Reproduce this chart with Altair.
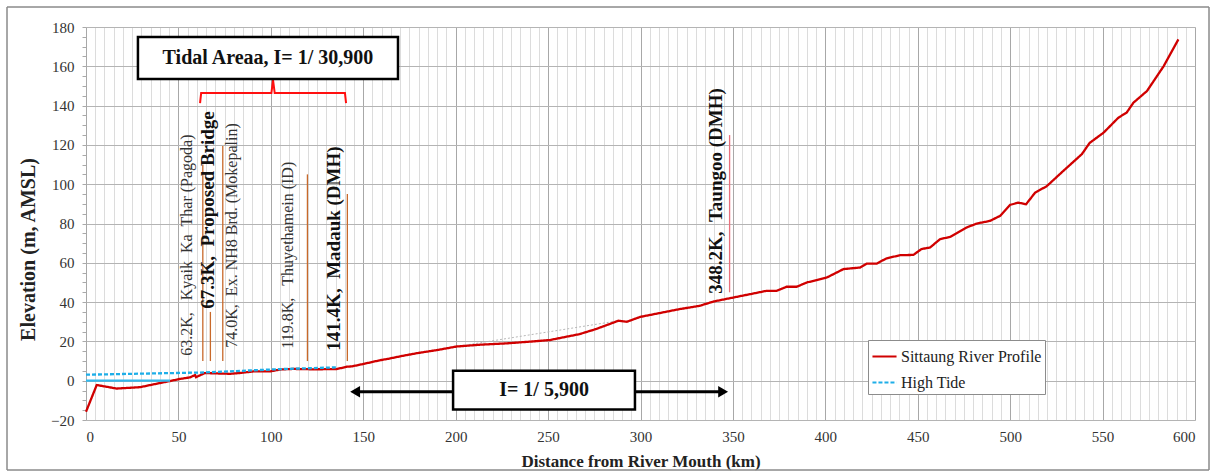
import altair as alt
import pandas as pd

# ---------------- data ----------------
profile_km = [0, 5.8, 16.6, 29.2, 40, 50.9, 56.3, 59, 59.5, 64.4, 70.7, 78, 83, 90.5, 99.6, 105, 112, 123,
              135.6, 141, 144, 150, 159, 162.7, 170, 179, 190, 200.5, 213, 227.6, 242, 251, 267, 276, 288,
              292.6, 300, 321, 332, 339.5, 348.5, 357.5, 368, 373.5, 379, 384.5, 390, 395.4, 400.8, 409.8,
              418.8, 422.4, 427.8, 433, 440.5, 447.6, 452, 456.7, 462, 467.5, 476.5, 482, 489, 494.6, 500,
              504.5, 508.6, 513.5, 519.8, 528.8, 538.8, 543, 550.5, 558.6, 563, 566.7, 574, 583, 591]
profile_elev = [-15.8, -2.2, -4.0, -3.3, -1.2, 0.9, 1.7, 2.9, 1.8, 3.9, 3.7, 3.5, 3.9, 4.7, 4.7, 5.7, 6.0, 5.8,
                5.9, 7.1, 7.3, 8.5, 10.4, 11.0, 12.4, 14.0, 15.6, 17.4, 18.3, 19.0, 20.0, 20.7, 23.7, 26.3, 30.5,
                30.0, 32.5, 36.4, 38.1, 40.3, 42.0, 43.7, 45.7, 45.7, 47.8, 47.8, 50.0, 51.2, 52.5, 56.8,
                57.6, 59.6, 59.6, 62.2, 63.9, 64.0, 67.0, 67.8, 72.0, 73.2, 78.0, 80.0, 81.3, 83.9, 89.5,
                90.6, 89.8, 95.7, 99.0, 106.8, 115.3, 121.0, 126.2, 133.9, 136.4, 141.5, 147.4, 160.0, 173.7]

tide_km = [0, 64, 105, 135.6]
tide_elev = [3.05, 4.2, 5.9, 6.8]

low_km = [0, 45.5]
low_elev = [0, 0]

trend_km = [200.5, 288]
trend_elev = [17.4, 30.5]

series_names = ["Sittaung River Profile", "High Tide"]

marker_km = [63.2, 67.3, 74.0, 119.8, 141.4, 348.2]
marker_bottom = [10, 10, 10, 10, 10, 45]
marker_top = [110, 35, 119.5, 105, 95, 125]
marker_color = ["#C8692A", "#C8692A", "#C8692A", "#C8692A", "#C8692A", "#E8707C"]

S = "\u00a0"
label_text = ["63.2K," + S * 3 + "Kyaik" + S * 2 + "Ka" + S * 2 + "Thar (Pagoda)",
              "67.3K," + S * 2 + "Proposed Bridge",
              "74.0K," + S * 2 + "Ex. NH8 Brd. (Mokepalin)",
              "119.8K," + S * 3 + "Thuyethamein (ID)",
              "141.4K," + S * 2 + "Madauk (DMH)",
              "348.2K," + S * 2 + "Taungoo (DMH)"]
label_km = [54.7, 66.0, 78.8, 109.3, 134.2, 340.9]
label_elev = [12.7, 36.6, 16.8, 16.3, 15.3, 44.2]
label_bold = [False, True, False, False, True, True]

brace_km = [61.7, 62.3, 100.3, 101.2, 102.1, 140.1, 140.7]
brace_elev = [141.3, 146.4, 146.4, 153.0, 146.4, 146.4, 141.3]

box_text = ["Tidal Areaa, I= 1/ 30,900", "I= 1/ 5,900"]
box_km1 = [28.1, 198.6]
box_km2 = [168.8, 297.0]
box_elev1 = [153.6, -14.7]
box_elev2 = [174.9, 5.1]

arrow_from = [198.6, 297.0]
arrow_to = [145.6, 344.7]
arrow_elev = [-5.6, -5.6]
arrow_shape = ["triangle-left", "triangle-right"]

# ---------------- tables ----------------
profile = pd.DataFrame({"km": profile_km + tide_km,
                        "elev": profile_elev + tide_elev,
                        "series": [series_names[0]] * len(profile_km) + [series_names[1]] * len(tide_km)})
low = pd.DataFrame({"km": low_km, "elev": low_elev})
trend = pd.DataFrame({"km": trend_km, "elev": trend_elev})
markers = pd.DataFrame({"km": marker_km, "elev": marker_bottom, "top": marker_top, "c": marker_color})
labels = pd.DataFrame({"km": label_km, "elev": label_elev, "text": label_text, "bold": label_bold})
brace = pd.DataFrame({"km": brace_km, "elev": brace_elev, "o": list(range(len(brace_km)))})
boxes = pd.DataFrame({"km": box_km1, "km2": box_km2, "elev": box_elev1, "elev2": box_elev2, "text": box_text,
                      "cx": [(a + b) / 2 for a, b in zip(box_km1, box_km2)],
                      "cy": [(a + b) / 2 for a, b in zip(box_elev1, box_elev2)]})
arrows = pd.DataFrame({"km": arrow_from, "km2": arrow_to, "elev": arrow_elev, "shape": arrow_shape})

FONT = "Liberation Serif"
XS = alt.Scale(domain=[0, 600], nice=False, zero=False)
YS = alt.Scale(domain=[-20, 180], nice=False, zero=False)
XAXIS = alt.Axis(values=list(range(0, 601, 5)),
                 labelExpr="datum.value % 50 === 0 ? datum.label : ''",
                 gridColor={"condition": {"test": "datum.value % 50 === 0", "value": "#a8a8a8"}, "value": "#dcdcdc"},
                 ticks=False, domain=False, labelPadding=9, labelFontSize=15, labelFont=FONT,
                 labelColor="#333333", title="Distance from River Mouth (km)", titleFont=FONT,
                 titleFontSize=17, titleFontWeight="bold", titleColor="#222222", titlePadding=9)
YAXIS = alt.Axis(values=list(range(-20, 181, 5)),
                 labelExpr="datum.value % 20 === 0 ? datum.label : ''",
                 gridOpacity={"condition": {"test": "datum.value % 20 === 0", "value": 1}, "value": 0},
                 gridColor="#b4b4b4", tickSize=4, tickColor="#aaaaaa", domain=False,
                 labelPadding=8, labelFontSize=15, labelFont=FONT, labelColor="#333333",
                 title="Elevation (m, AMSL)", titleFont=FONT, titleFontSize=20, titleFontWeight="bold",
                 titleColor="#222222", titlePadding=12, titleY=222)


def X(f="km"):
    return alt.X(f"{f}:Q", scale=XS, axis=XAXIS)


def Y(f="elev"):
    return alt.Y(f"{f}:Q", scale=YS, axis=YAXIS)


color_scale = alt.Scale(domain=series_names, range=["#D00000", "#1EAEE8"])
dash_scale = alt.Scale(domain=series_names, range=[[1, 0], [4, 2]])
leg = alt.Legend(title=None, orient="none", legendX=782, legendY=313, fillColor="white",
                 strokeColor="#8c8c8c", padding=3, labelFont=FONT, labelFontSize=16, labelColor="#222",
                 symbolType="stroke", symbolSize=580, symbolStrokeWidth=2.2, rowPadding=4, labelOffset=3)

trend_l = alt.Chart(trend).mark_line(color="#b8b8b8", strokeWidth=1, strokeDash=[2, 2]).encode(x=X(), y=Y())

red_l = alt.Chart(profile).transform_filter(f"datum.series == '{series_names[0]}'").mark_line(
    strokeWidth=2.3).encode(
    x=X(), y=Y(),
    color=alt.Color("series:N", scale=color_scale, legend=leg),
    strokeDash=alt.StrokeDash("series:N", scale=dash_scale, legend=leg))

tide_l = alt.Chart(profile).transform_filter(f"datum.series == '{series_names[1]}'").mark_line(
    strokeWidth=2.3).encode(
    x=X(), y=Y(),
    color=alt.Color("series:N", scale=color_scale, legend=leg),
    strokeDash=alt.StrokeDash("series:N", scale=dash_scale, legend=leg))

low_l = alt.Chart(low).mark_line(color="#33B8EC", strokeWidth=2.3).encode(x=X(), y=Y())

marker_l = alt.Chart(markers).mark_rule(strokeWidth=1.3).encode(
    x=X(), y=Y(), y2="top:Q", color=alt.Color("c:N", scale=None))

lab_norm = alt.Chart(labels).transform_filter("!datum.bold").mark_text(
    angle=270, align="left", baseline="middle", font=FONT, fontSize=16, color="#333333").encode(
    x=X(), y=Y(), text="text:N")
lab_bold = alt.Chart(labels).transform_filter("datum.bold").mark_text(
    angle=270, align="left", baseline="middle", font=FONT, fontSize=19, fontWeight="bold",
    color="#111111").encode(x=X(), y=Y(), text="text:N")

brace_l = alt.Chart(brace).mark_line(color="#FF1010", strokeWidth=2).encode(x=X(), y=Y(), order="o:Q")

arrow_l = alt.Chart(arrows).mark_rule(color="black", strokeWidth=3).encode(x=X(), x2="km2:Q", y=Y())
head_l = alt.Chart(arrows).mark_point(filled=True, color="black", size=130, opacity=1).encode(
    x=X("km2"), y=Y(), shape=alt.Shape("shape:N", scale=None))

box_l = alt.Chart(boxes).mark_rect(fill="white", stroke="black", strokeWidth=2.5).encode(
    x=X(), x2="km2:Q", y=Y(), y2="elev2:Q")
box_t = alt.Chart(boxes).mark_text(font=FONT, fontSize=20, fontWeight="bold", color="#111111").encode(
    x=X("cx"), y=Y("cy"), text="text:N")

frame = alt.Chart(low).mark_rect(fill=None, stroke="#8a8a8a", strokeWidth=1).encode(
    x=alt.value(-79), x2=alt.value(1123), y=alt.value(-20), y2=alt.value(443))

chart = alt.layer(
    trend_l, red_l, tide_l, low_l, marker_l, lab_norm, lab_bold, brace_l,
    arrow_l, head_l, box_l, box_t, frame
).properties(
    width=1109, height=393,
    padding={"left": 86, "top": 27, "right": 17, "bottom": 52},
    autosize=alt.AutoSizeParams(type="none"),
    background="white"
).configure_view(stroke=None).configure(font=FONT).configure_axis(labelFont=FONT, titleFont=FONT)

chart.save("out.html", embed_options={"renderer": "svg", "actions": False})
